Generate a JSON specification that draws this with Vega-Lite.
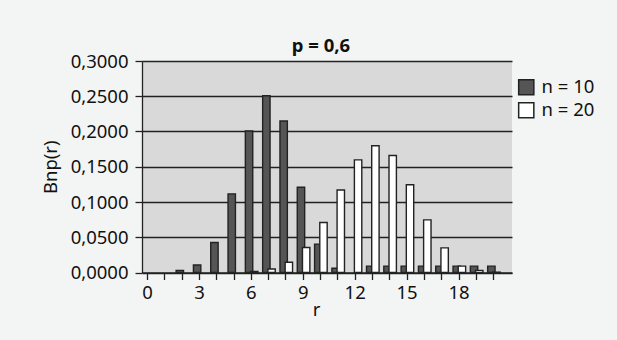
{
  "$schema": "https://vega.github.io/schema/vega-lite/v6.json",
  "width": 370,
  "height": 211.5,
  "autosize": "none",
  "padding": {"left": 142, "top": 61, "right": 105, "bottom": 67.5},
  "background": "#f3f5f5",
  "title": {"text": "p = 0,6", "fontSize": 18.5, "fontWeight": "bold", "font": "Noto Sans", "color": "#111", "anchor": "middle", "offset": -3, "dx": -6},
  "config": {
    "font": "Noto Sans",
    "view": {"fill": "#d9d9d9", "stroke": null},
    "axis": {"labelFontSize": 18.5, "titleFontSize": 18.5, "titleFontWeight": "normal", "labelColor": "#111", "titleColor": "#111", "domainColor": "#222", "tickColor": "#222", "tickSize": 7, "domainWidth": 1.3, "tickWidth": 1.3}
  },
  "datasets": {
    "n10": [
      {"r": 2, "p": 0.003, "series": "n = 10"},
      {"r": 3, "p": 0.0106, "series": "n = 10"},
      {"r": 4, "p": 0.0425, "series": "n = 10"},
      {"r": 5, "p": 0.1115, "series": "n = 10"},
      {"r": 6, "p": 0.2007, "series": "n = 10"},
      {"r": 7, "p": 0.2508, "series": "n = 10"},
      {"r": 8, "p": 0.215, "series": "n = 10"},
      {"r": 9, "p": 0.1209, "series": "n = 10"},
      {"r": 10, "p": 0.0403, "series": "n = 10"},
      {"r": 11, "p": 0.006, "series": "n = 10"},
      {"r": 13, "p": 0.009, "series": "n = 10"},
      {"r": 14, "p": 0.009, "series": "n = 10"},
      {"r": 15, "p": 0.009, "series": "n = 10"},
      {"r": 16, "p": 0.009, "series": "n = 10"},
      {"r": 17, "p": 0.009, "series": "n = 10"},
      {"r": 18, "p": 0.009, "series": "n = 10"},
      {"r": 19, "p": 0.009, "series": "n = 10"},
      {"r": 20, "p": 0.009, "series": "n = 10"}
    ],
    "n20": [
      {"r": 6, "p": 0.0015, "series": "n = 20"},
      {"r": 7, "p": 0.0049, "series": "n = 20"},
      {"r": 8, "p": 0.0146, "series": "n = 20"},
      {"r": 9, "p": 0.0355, "series": "n = 20"},
      {"r": 10, "p": 0.071, "series": "n = 20"},
      {"r": 11, "p": 0.1171, "series": "n = 20"},
      {"r": 12, "p": 0.1597, "series": "n = 20"},
      {"r": 13, "p": 0.1797, "series": "n = 20"},
      {"r": 14, "p": 0.1659, "series": "n = 20"},
      {"r": 15, "p": 0.1244, "series": "n = 20"},
      {"r": 16, "p": 0.0746, "series": "n = 20"},
      {"r": 17, "p": 0.035, "series": "n = 20"},
      {"r": 18, "p": 0.009, "series": "n = 20"},
      {"r": 19, "p": 0.003, "series": "n = 20"},
      {"r": 20, "p": 0.0005, "series": "n = 20"}
    ]
  },
  "encoding": {
    "x": {"field": "r", "type": "quantitative", "scale": {"domain": [0, 20.8], "nice": false, "zero": false},
      "axis": {"title": "r", "grid": false, "values": [0,1,2,3,4,5,6,7,8,9,10,11,12,13,14,15,16,17,18,19,20], "labelExpr": "datum.value % 3 === 0 ? datum.label : ''", "labelOverlap": false, "labelFlush": false, "labelPadding": 4, "titlePadding": -2, "titleX": 174}},
    "y": {"field": "p", "type": "quantitative", "scale": {"domain": [0, 0.3], "nice": false},
      "axis": {"title": "Bnp(r)", "values": [0, 0.05, 0.1, 0.15, 0.2, 0.25, 0.3], "labelExpr": "replace(format(datum.value, '.4f'), '.', ',')", "grid": true, "gridColor": "#222", "gridWidth": 1.3, "labelPadding": 7, "titlePadding": 10}},
    "color": {"field": "series", "type": "nominal", "scale": {"domain": ["n = 10", "n = 20"], "range": ["#555555", "#ffffff"]},
      "legend": {"title": null, "orient": "none", "legendX": 375, "legendY": 17, "symbolType": "square", "symbolSize": 230, "symbolStrokeColor": "#222", "symbolStrokeWidth": 1.5, "symbolOpacity": 1, "labelFontSize": 18.5, "labelColor": "#111", "rowPadding": 1, "labelOffset": 6}}
  },
  "layer": [
    {"data": {"name": "n10"}, "mark": {"type": "bar", "width": 7.4, "xOffset": -1.8, "stroke": "#222", "strokeWidth": 1.4, "opacity": 1}},
    {"data": {"name": "n20"}, "mark": {"type": "bar", "width": 7.4, "xOffset": 3.4, "stroke": "#222", "strokeWidth": 1.4, "opacity": 1}}
  ]
}
